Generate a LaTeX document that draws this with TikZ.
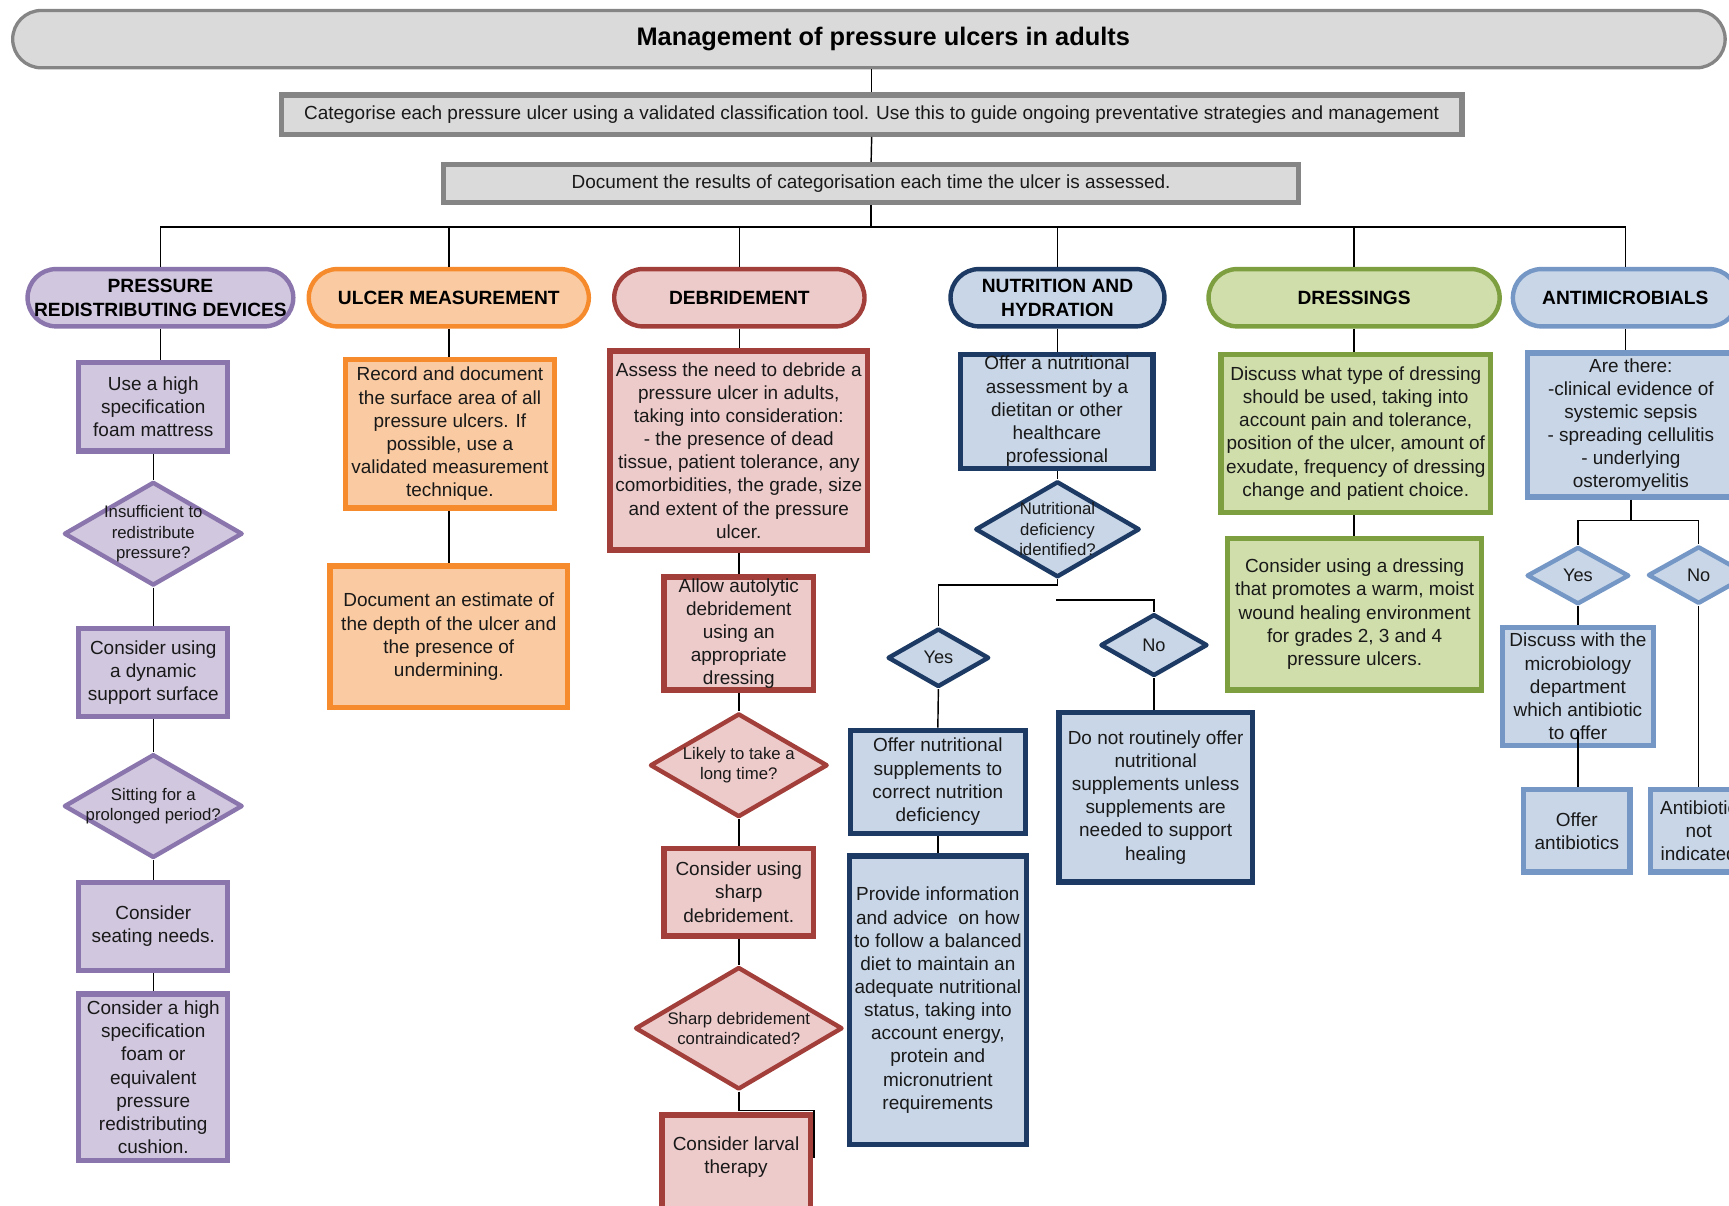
\documentclass[tikz,border=0pt]{standalone}
\usepackage{fontspec}
\setmainfont{Liberation Sans}
\usetikzlibrary{shapes.geometric}
\definecolor{pfill}{HTML}{D1C7DF}
\definecolor{pborder}{HTML}{8B75AD}
\definecolor{ofill}{HTML}{FACBA2}
\definecolor{oborder}{HTML}{F68B2E}
\definecolor{rfill}{HTML}{EECBCB}
\definecolor{rborder}{HTML}{A23F3A}
\definecolor{nfill}{HTML}{C8D6E7}
\definecolor{nborder}{HTML}{1C3A63}
\definecolor{gfill}{HTML}{D0DEAB}
\definecolor{gborder}{HTML}{7E9F3F}
\definecolor{afill}{HTML}{C8D6E7}
\definecolor{aborder}{HTML}{7597C5}
\definecolor{grfill}{HTML}{DADADA}
\definecolor{grborder}{HTML}{858585}
\begin{document}
\begin{tikzpicture}[x=1pt,y=-1pt,
  conn/.style={draw=black, line width=1.3pt},
  base/.style={rectangle, draw, inner xsep=-10pt, inner ysep=-4pt, align=center, text=black!90, line width=4.8pt},
  body/.style={font=\fontsize{17.2}{21}\selectfont},
  pbox/.style={base, body, fill=pfill, draw=pborder},
  obox/.style={base, body, fill=ofill, draw=oborder},
  rbox/.style={base, body, fill=rfill, draw=rborder},
  nbox/.style={base, body, fill=nfill, draw=nborder},
  gbox/.style={base, body, fill=gfill, draw=gborder},
  abox/.style={base, body, fill=afill, draw=aborder},
  grbox/.style={base, body, fill=grfill, draw=grborder},
  pill/.style={rectangle, rounded corners=26pt, line width=4pt, inner xsep=-10pt, inner ysep=-4pt, align=center, minimum height=52pt, font=\bfseries\fontsize{17.4}{22}\selectfont, text=black},
  dia/.style={diamond, line width=4pt, inner sep=0pt, line join=round},
  dtext/.style={align=center, inner sep=0pt, font=\fontsize{15.2}{18.5}\selectfont, text=black!90},
  yntext/.style={align=center, inner sep=0pt, font=\fontsize{16.5}{20}\selectfont, text=black!90},
]
\useasboundingbox (0,0) rectangle (1568,1093);

% ---- top
\node[rectangle, rounded corners=26pt, line width=3pt, fill=grfill, draw=grborder, minimum width=1553pt, minimum height=52pt, inner sep=0pt, font=\bfseries\fontsize{23}{27}\selectfont] (title) at (788,35.5) {\hspace*{26pt}Management of pressure ulcers in adults};
\node[grbox, minimum width=1070.5pt, minimum height=35.5pt] (b2) at (790.5,104) {Categorise each pressure ulcer using a validated classification tool. Use this to guide ongoing preventative strategies and management};
\node[grbox, minimum width=775.5pt, minimum height=34.5pt] (b3) at (790,166.5) {Document the results of categorisation each time the ulcer is assessed.};
\coordinate (bus) at (790,206);

% ---- categories
\node[pill, fill=pfill, draw=pborder, minimum width=241pt] (c1) at (145.5,270) {PRESSURE\\REDISTRIBUTING DEVICES};
\node[pill, fill=ofill, draw=oborder, minimum width=254pt] (c2) at (407,270) {ULCER MEASUREMENT};
\node[pill, fill=rfill, draw=rborder, minimum width=227pt] (c3) at (670.5,270) {DEBRIDEMENT};
\node[pill, fill=nfill, draw=nborder, minimum width=194pt] (c4) at (959,270) {NUTRITION AND\\HYDRATION};
\node[pill, fill=gfill, draw=gborder, minimum width=264pt] (c5) at (1228,270) {DRESSINGS};
\node[pill, fill=afill, draw=aborder, minimum width=204pt] (c6) at (1474,270) {ANTIMICROBIALS};

% ---- column 1
\node[pbox, minimum width=135pt, minimum height=80pt] (p1) at (139,369) {Use a high\\specification\\foam mattress};
\node[dia, fill=pfill, draw=pborder, minimum width=162pt, minimum height=94pt] (pd1) at (139,484) {};
\node[dtext] (pd1t) at (pd1.center) {Insufficient to\\redistribute\\pressure?};
\node[pbox, minimum width=135pt, minimum height=80pt] (p2) at (139,610) {Consider using\\a dynamic\\support surface};
\node[dia, fill=pfill, draw=pborder, minimum width=162pt, minimum height=94pt] (pd2) at (139,731) {};
\node[dtext] (pd2t) at (pd2.center) {Sitting for a\\prolonged period?};
\node[pbox, minimum width=135pt, minimum height=80pt] (p3) at (139,840) {Consider\\seating needs.};
\node[pbox, minimum width=135pt, minimum height=151pt] (p4) at (139,977) {Consider a high\\specification\\foam or\\equivalent\\pressure\\redistributing\\cushion.};

% ---- column 2
\node[obox, minimum width=189.5pt, minimum height=134.5pt] (o1) at (408,393.5) {Record and document\\the surface area of all\\pressure ulcers. If\\possible, use a\\validated measurement\\technique.};
\node[obox, minimum width=215.5pt, minimum height=128.5pt] (o2) at (407,577.5) {Document an estimate of\\the depth of the ulcer and\\the presence of\\undermining.};

% ---- column 3
\node[rbox, minimum width=233.5pt, minimum height=180.5pt] (r1) at (670,408.5) {Assess the need to debride a\\pressure ulcer in adults,\\taking into consideration:\\- the presence of dead\\tissue, patient tolerance, any\\comorbidities, the grade, size\\and extent of the pressure\\ulcer.};
\node[rbox, minimum width=135.5pt, minimum height=102.5pt] (r2) at (670,574.5) {Allow autolytic\\debridement\\using an\\appropriate\\dressing};
\node[dia, fill=rfill, draw=rborder, minimum width=161pt, minimum height=94pt] (rd1) at (670,694) {};
\node[dtext] (rd1t) at (rd1.center) {Likely to take a\\long time?};
\node[rbox, minimum width=135.5pt, minimum height=79.5pt] (r3) at (670,809) {Consider using\\sharp\\debridement.};
\node[dia, fill=rfill, draw=rborder, minimum width=188pt, minimum height=111pt] (rd2) at (670,932.5) {};
\node[dtext] (rd2t) at (rd2.center) {Sharp debridement\\contraindicated?};
\node[rbox, minimum width=134.5pt, minimum height=86.5pt] (r4) at (667.5,1054.5) {};
\node[inner sep=0pt, align=center, text=black!90, body] (r4t) at (667.5,1049.5) {Consider larval\\therapy};

% ---- column 4
\node[nbox, minimum width=174.5pt, minimum height=103.5pt] (n1) at (958.5,373) {Offer a nutritional\\assessment by a\\dietitan or other\\healthcare\\professional};
\node[dia, fill=nfill, draw=nborder, minimum width=149pt, minimum height=87pt] (nd) at (959,480) {};
\node[dtext] (ndt) at (nd.center) {Nutritional\\deficiency\\identified?};
\node[dia, fill=nfill, draw=nborder, minimum width=92pt, minimum height=53pt] (ny) at (851,596.5) {};
\node[yntext] (nyt) at (ny.center) {Yes};
\node[dia, fill=nfill, draw=nborder, minimum width=97pt, minimum height=56pt] (nn) at (1046.5,585) {};
\node[yntext] (nnt) at (nn.center) {No};
\node[nbox, minimum width=158.5pt, minimum height=93.5pt] (n2) at (850.5,709) {Offer nutritional\\supplements to\\correct nutrition\\deficiency};
\node[nbox, minimum width=160.5pt, minimum height=261.5pt] (n3) at (850.5,907) {Provide information\\and advice\ \ on how\\to follow a balanced\\diet to maintain an\\adequate nutritional\\status, taking into\\account energy,\\protein and\\micronutrient\\requirements};
\node[nbox, minimum width=175.5pt, minimum height=153.5pt] (n4) at (1048,723) {Do not routinely offer\\nutritional\\supplements unless\\supplements are\\needed to support\\healing};

% ---- column 5
\node[gbox, minimum width=244.5pt, minimum height=143.5pt] (g1) at (1229.5,393) {Discuss what type of dressing\\should be used, taking into\\account pain and tolerance,\\position of the ulcer, amount of\\exudate, frequency of dressing\\change and patient choice.};
\node[gbox, minimum width=230.5pt, minimum height=137.5pt] (g2) at (1228.5,557) {Consider using a dressing\\that promotes a warm, moist\\wound healing environment\\for grades 2, 3 and 4\\pressure ulcers.};

% ---- column 6
\node[abox, minimum width=187.5pt, minimum height=130.5pt] (a1) at (1479,385.5) {Are there:\\-clinical evidence of\\systemic sepsis\\- spreading cellulitis\\- underlying\\osteromyelitis};
\node[dia, fill=afill, draw=aborder, minimum width=93pt, minimum height=52pt] (ay) at (1431,522) {};
\node[yntext] (ayt) at (ay.center) {Yes};
\node[dia, fill=afill, draw=aborder, minimum width=92pt, minimum height=52pt] (an) at (1540.5,521.5) {};
\node[yntext] (ant) at (an.center) {No};
\node[abox, minimum width=136.5pt, minimum height=106.5pt] (a2) at (1431,622.5) {Discuss with the\\microbiology\\department\\which antibiotic\\to offer};
\node[abox, minimum width=96.5pt, minimum height=74.5pt] (a3) at (1430,753.5) {Offer\\antibiotics};
\node[abox, minimum width=87.5pt, minimum height=74.5pt] (a4) at (1540.5,753.5) {Antibiotic\\not\\indicated};

% ---- connectors
\draw[conn] (b2.north |- title.south) -- (b2.north);
\draw[conn] (b2.south) -- (b3.north);
\draw[conn] (b3.south) -- (bus);
\draw[conn] (c1.north) |- (bus) -| (c6.north);
\draw[conn] (c2.north |- bus) -- (c2.north);
\draw[conn] (c3.north |- bus) -- (c3.north);
\draw[conn] (c4.north |- bus) -- (c4.north);
\draw[conn] (c5.north |- bus) -- (c5.north);

\draw[conn] (c1.south) -- (c1.south |- p1.north);
\draw[conn] (p1.south) -- (pd1.north);
\draw[conn] (pd1.south) -- (p2.north);
\draw[conn] (p2.south) -- (pd2.north);
\draw[conn] (pd2.south) -- (p3.north);
\draw[conn] (p3.south) -- (p4.north);

\draw[conn] (c2.south) -- (c2.south |- o1.north);
\draw[conn] (o1.south -| c2.south) -- (c2.south |- o2.north);

\draw[conn] (c3.south) -- (c3.south |- r1.north);
\draw[conn] (r1.south) -- (r2.north);
\draw[conn] (r2.south) -- (rd1.north);
\draw[conn] (rd1.south) -- (r3.north);
\draw[conn] (r3.south) -- (rd2.north);
\coordinate (lv1) at (738,1007);
\coordinate (lv2) at (738,1050);
\draw[conn] (rd2.south) |- (lv1) -- (lv2);

\draw[conn] (c4.south) -- (c4.south |- n1.north);
\draw[conn] (n1.south -| nd.north) -- (nd.north);
\draw[conn] (nd.south) -- ++(0,5) -| (ny.north);
\coordinate (nnstart) at (958,544);
\draw[conn] (nnstart) -| (nn.north);
\draw[conn] (ny.south) -- (n2.north);
\draw[conn] (n2.south) -- (n3.north);
\draw[conn] (nn.south) -- (nn.south |- n4.north);

\draw[conn] (c5.south) -- (c5.south |- g1.north);
\draw[conn] (g1.south -| c5.south) -- (c5.south |- g2.north);

\draw[conn] (c6.south) -- (c6.south |- a1.north);
\draw[conn] (a1.south) -- ++(0,19) coordinate (abr);
\draw[conn] (ay.north) |- (abr) -| (an.north);
\draw[conn] (ay.south) -- (a2.north);
\coordinate (a2in) at (1431,664);
\draw[conn, line width=2.4pt] (a2in) -- ([yshift=-10pt]a2.south);
\draw[conn] (a2.south -| a2in) -- (a3.north -| a2in);
\draw[conn] (an.south) -- (a4.north);
\end{tikzpicture}
\end{document}
